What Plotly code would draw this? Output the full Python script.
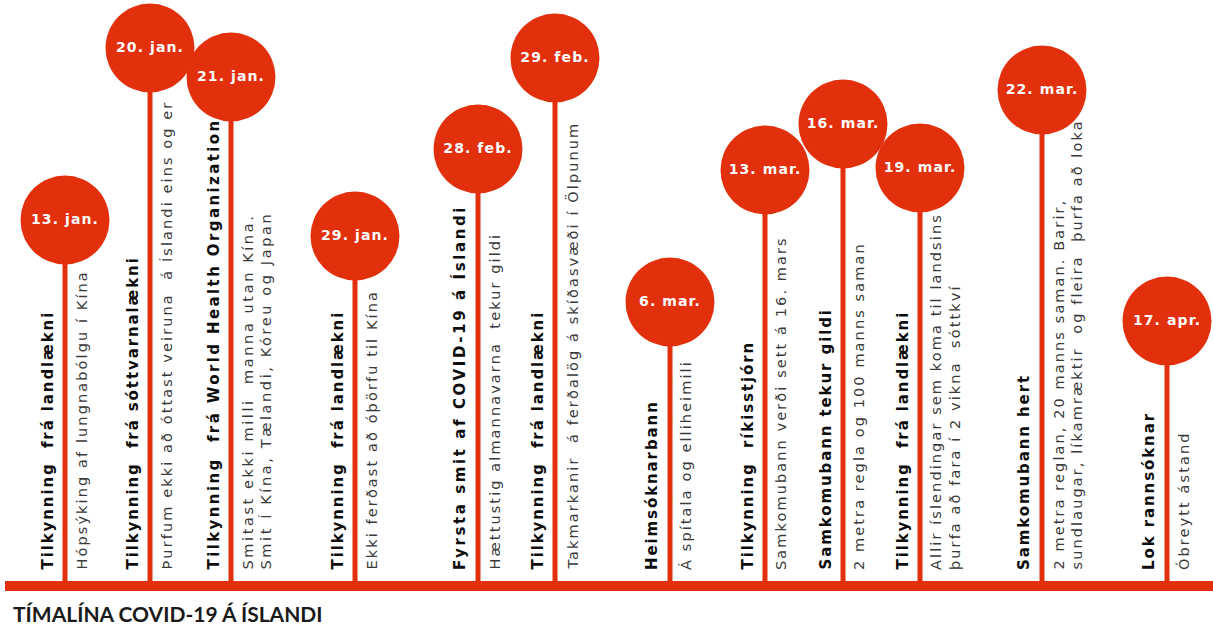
import plotly.graph_objects as go

# ---- data ----
dates = ["13. jan.", "20. jan.", "21. jan.", "29. jan.", "28. feb.", "29. feb.",
         "6. mar.", "13. mar.", "16. mar.", "19. mar.", "22. mar.", "17. apr."]
headlines = ["Tilkynning  frá landlækni",
             "Tilkynning  frá sóttvarnalækni",
             "Tilkynning  frá World Health Organization",
             "Tilkynning  frá landlækni",
             "Fyrsta smit af COVID-19 á Íslandi",
             "Tilkynning  frá landlækni",
             "Heimsóknarbann",
             "Tilkynning  ríkisstjórn",
             "Samkomubann tekur gildi",
             "Tilkynning  frá landlækni",
             "Samkomubann hert",
             "Lok rannsóknar"]
descriptions = [["Hópsýking af lungnabólgu í Kína"],
                ["Þurfum ekki að óttast veiruna  á Íslandi eins og er"],
                ["Smitast ekki milli  manna utan Kína.", "Smit Í Kína, Tælandi, Kóreu og Japan"],
                ["Ekki ferðast að óþörfu til Kína"],
                ["Hættustig almannavarna  tekur gildi"],
                ["Takmarkanir  á ferðalög á skíðasvæði í Ölpunum"],
                ["Á spítala og elliheimili"],
                ["Samkomubann verði sett á 16. mars"],
                ["2 metra regla og 100 manns saman"],
                ["Allir íslendingar sem koma til landsins", "þurfa að fara í 2 vikna  sóttkví"],
                ["2 metra reglan, 20 manns saman. Barir,",
                 "sundlaugar, líkamræktir  og fleira  þurfa að loka"],
                ["Óbreytt ástand"]]
title_text = "TÍMALÍNA COVID-19 Á ÍSLANDI"

# ---- layout constants (pixel-like canvas units) ----
W, H = 1213, 628
stem_x = [65, 150, 231, 355, 478, 555, 670, 765, 843, 920, 1042, 1167]
bubble_y = [220, 48, 77, 236, 149, 58, 302, 170, 124, 168, 90, 321]
head_spacing = [1.9, 1.9, 2.4, 1.9, 2.6, 1.9, 1.9, 1.9, 1.9, 1.9, 1.9, 1.9]
desc_spacing = [2.1, 2.1, 2.6, 2.1, 2.1, 2.1, 2.1, 2.1, 2.1, 2.1, 2.1, 2.1]
base_y = 586
text_bottom = 572
RED = "#E2300D"


def spaced(s, px):
    return '<span style="letter-spacing:%spx">%s</span>' % (px, s)


fig = go.Figure()

# baseline
fig.add_trace(go.Scatter(x=[5, W], y=[base_y, base_y], mode="lines",
                         line=dict(color=RED, width=10), hoverinfo="skip"))

# stems
sx, sy = [], []
for x, y in zip(stem_x, bubble_y):
    sx += [x, x, None]
    sy += [base_y, y, None]
fig.add_trace(go.Scatter(x=sx, y=sy, mode="lines",
                         line=dict(color=RED, width=5), hoverinfo="skip"))

# bubbles with dates
fig.add_trace(go.Scatter(x=stem_x, y=bubble_y, mode="markers+text",
                         text=[spaced("<b>" + d + "</b>", 1.1) for d in dates],
                         textposition="middle center",
                         textfont=dict(family="DejaVu Sans", size=14, color="white"),
                         marker=dict(size=89, color=RED, line=dict(width=0)),
                         hoverinfo="skip"))

annotations = []
for x, h, d, hs, ds in zip(stem_x, headlines, descriptions, head_spacing, desc_spacing):
    annotations.append(dict(x=x - 7, y=text_bottom, xref="x", yref="y",
                            text=spaced("<b>" + h + "</b>", hs), showarrow=False,
                            textangle=-90, xanchor="right", yanchor="bottom",
                            font=dict(family="DejaVu Sans", size=15, color="#0d0d0d")))
    annotations.append(dict(x=x + 6, y=text_bottom, xref="x", yref="y",
                            text="<br>".join(spaced(t, ds) for t in d), showarrow=False,
                            align="left",
                            textangle=-90, xanchor="left", yanchor="bottom",
                            font=dict(family="DejaVu Sans", size=14.5, color="#3a3a3a")))

annotations.append(dict(x=11, y=613, xref="x", yref="y", text="<b>" + title_text + "</b>",
                        showarrow=False, xanchor="left", yanchor="middle",
                        font=dict(family="Lato", size=21, color="#1a1a1a")))

fig.update_layout(
    width=W, height=H,
    margin=dict(l=0, r=0, t=0, b=0),
    paper_bgcolor="white", plot_bgcolor="white",
    showlegend=False,
    xaxis=dict(range=[0, W], visible=False, fixedrange=True),
    yaxis=dict(range=[H, 0], visible=False, fixedrange=True),
    annotations=annotations,
)

fig.write_html("out.html", config={"displayModeBar": False},
               post_script="document.body.style.margin='0px';document.body.style.overflow='hidden';")
